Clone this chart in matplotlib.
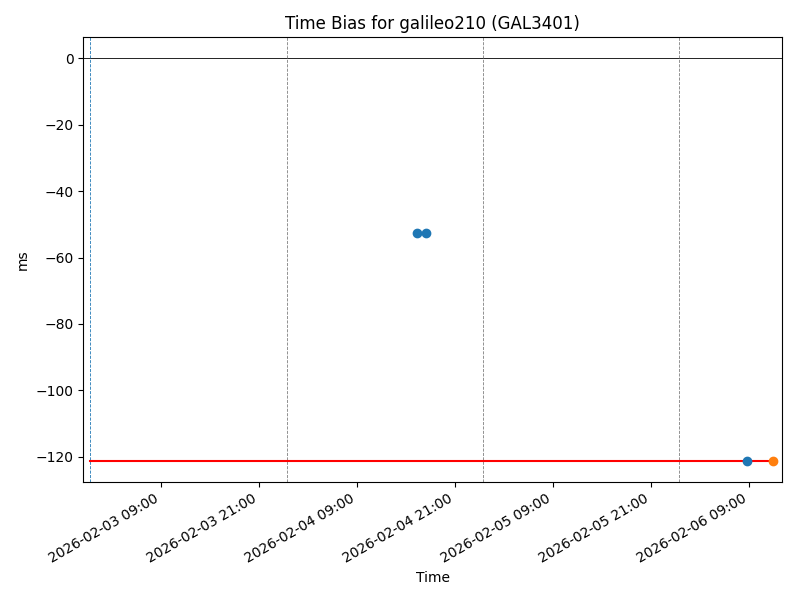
import numpy as np
import pandas as pd
import matplotlib
matplotlib.use("Agg")
import matplotlib.pyplot as plt
import matplotlib.dates as mdates

# ---------------------------------------------
# Dados
# ---------------------------------------------
t_bias = pd.to_datetime(["2026-02-04 16:21", "2026-02-04 17:27", "2026-02-06 08:45"])
bias = [-52.7, -52.7, -121.2]

t_ultimo = pd.to_datetime(["2026-02-06 11:56"])
bias_ultimo = [-121.2]

t_ref = pd.to_datetime(["2026-02-03 00:19", "2026-02-06 11:56"])
bias_ref = [-121.2, -121.2]

t_inicio = pd.Timestamp("2026-02-03 00:19")
t_dias = pd.to_datetime(["2026-02-04 00:26", "2026-02-05 00:26", "2026-02-06 00:26"])

xlim = pd.to_datetime(["2026-02-02 23:27", "2026-02-06 13:02"])

# ---------------------------------------------
# Gráfico
# ---------------------------------------------
fig, ax = plt.subplots(figsize=(8, 6), dpi=100)

ax.axhline(0, color="black", lw=0.6)
ax.axvline(t_inicio, color="C0", ls="--", lw=0.6)
for t in t_dias:
    ax.axvline(t, color="gray", ls="--", lw=0.6)

ax.plot(t_ref, bias_ref, color="red", lw=1.5)
ax.plot(t_bias, bias, "o", color="C0")
ax.plot(t_ultimo, bias_ultimo, "o", color="C1")

ax.set_xlim(xlim[0], xlim[1])
ax.set_ylim(-127.5, 6.3)
ax.xaxis.set_major_locator(mdates.HourLocator(byhour=[9, 21]))
ax.xaxis.set_major_formatter(mdates.DateFormatter("%Y-%m-%d %H:%M"))

ax.set_title("Time Bias for galileo210 (GAL3401)")
ax.set_xlabel("Time")
ax.set_ylabel("ms")
fig.autofmt_xdate()
fig.subplots_adjust(left=0.104, right=0.9775, top=0.938, bottom=0.197)
fig.savefig("out.png")
